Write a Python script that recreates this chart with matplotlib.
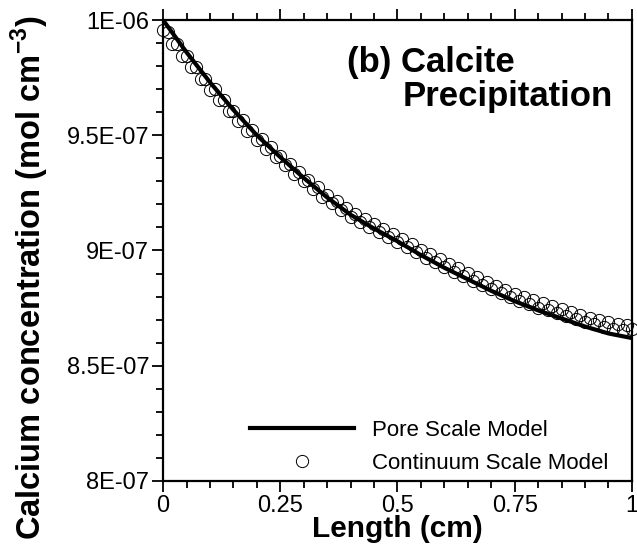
import matplotlib
matplotlib.use('Agg')
import numpy as np
import matplotlib.pyplot as plt
from matplotlib.ticker import MultipleLocator

plt.rcParams['font.family'] = ['Liberation Sans', 'DejaVu Sans']
plt.rcParams['mathtext.fontset'] = 'custom'
plt.rcParams['mathtext.rm'] = 'Liberation Sans'
plt.rcParams['mathtext.bf'] = 'Liberation Sans:bold'

# --- datos (concentracion en unidades de 1E-07 mol cm-3) ---
x_pore = [0.00, 0.05, 0.10, 0.15, 0.20, 0.25, 0.30, 0.35, 0.40, 0.45, 0.50,
          0.55, 0.60, 0.65, 0.70, 0.75, 0.80, 0.85, 0.90, 0.95, 1.00]
c_pore = [10.000, 9.860, 9.730, 9.610, 9.500, 9.405, 9.315, 9.230, 9.155, 9.095, 9.040,
          8.980, 8.925, 8.875, 8.825, 8.780, 8.740, 8.705, 8.670, 8.640, 8.620]

x_cont = [i / 100 for i in range(101)]
c_cont = [9.958, 9.946, 9.896, 9.894, 9.844, 9.842, 9.794, 9.794, 9.746, 9.746,
          9.698, 9.699, 9.652, 9.653, 9.606, 9.607, 9.562, 9.565, 9.520, 9.523,
          9.478, 9.484, 9.441, 9.447, 9.405, 9.410, 9.369, 9.376, 9.334, 9.341,
          9.300, 9.307, 9.267, 9.275, 9.234, 9.242, 9.204, 9.213, 9.175, 9.185,
          9.146, 9.159, 9.124, 9.136, 9.101, 9.114, 9.079, 9.093, 9.059, 9.072,
          9.038, 9.050, 9.015, 9.027, 8.992, 9.004, 8.969, 8.983, 8.948, 8.962,
          8.927, 8.941, 8.908, 8.922, 8.889, 8.903, 8.869, 8.884, 8.850, 8.865,
          8.831, 8.846, 8.814, 8.829, 8.797, 8.812, 8.781, 8.798, 8.766, 8.783,
          8.752, 8.770, 8.740, 8.757, 8.727, 8.745, 8.715, 8.733, 8.702, 8.720,
          8.690, 8.709, 8.680, 8.698, 8.669, 8.688, 8.661, 8.682, 8.654, 8.675,
          8.660]

xticks = [0, 0.25, 0.5, 0.75, 1]
xticklabels = ['0', '0.25', '0.5', '0.75', '1']
yticks = [8.0, 8.5, 9.0, 9.5, 10.0]
yticklabels = ['8E-07', '8.5E-07', '9E-07', '9.5E-07', '1E-06']

# --- figura ---
fig = plt.figure(figsize=(6.37, 5.56), dpi=100)
ax = fig.add_axes([0.256, 0.135, 0.736, 0.829])

ax.plot(x_cont, c_cont, linestyle='none', marker='o', markersize=8.8,
        markerfacecolor='none', markeredgecolor='black', markeredgewidth=0.7,
        clip_on=False, zorder=3, label='Continuum Scale Model')
ax.plot(x_pore, c_pore, color='black', linewidth=3.0, zorder=4,
        label='Pore Scale Model')

ax.set_xlim(0, 1)
ax.set_ylim(8.0, 10.0)
ax.set_xticks(xticks)
ax.set_xticklabels(xticklabels)
ax.set_yticks(yticks)
ax.set_yticklabels(yticklabels)
ax.xaxis.set_minor_locator(MultipleLocator(0.05))
ax.yaxis.set_minor_locator(MultipleLocator(0.1))

ax.tick_params(which='both', direction='out', top=True, right=False,
               width=1.3, labelsize=17, pad=2)
ax.tick_params(which='major', length=8)
ax.tick_params(which='minor', length=5)
for s in ax.spines.values():
    s.set_linewidth(1.6)

ax.set_xlabel('Length (cm)', fontsize=21.5, fontweight='bold', labelpad=-1)
ax.set_ylabel(r'Calcium concentration (mol cm$^{\mathbf{-3}}$)', fontsize=23.5,
              fontweight='bold')
ax.yaxis.set_label_coords(-0.24, 0.44)

ax.text(0.392, 0.887, '(b) Calcite', transform=ax.transAxes, fontsize=25,
        fontweight='bold', va='baseline', ha='left')
ax.text(0.512, 0.813, 'Precipitation', transform=ax.transAxes, fontsize=25,
        fontweight='bold', va='baseline', ha='left')

h, l = ax.get_legend_handles_labels()
ax.legend(h[::-1], l[::-1], loc='lower left', bbox_to_anchor=(0.185, 0.015),
          frameon=False, fontsize=16, numpoints=1, handlelength=4.7,
          handletextpad=0.8, labelspacing=0.55, borderpad=0, borderaxespad=0)

fig.savefig('out.png', dpi=100)
